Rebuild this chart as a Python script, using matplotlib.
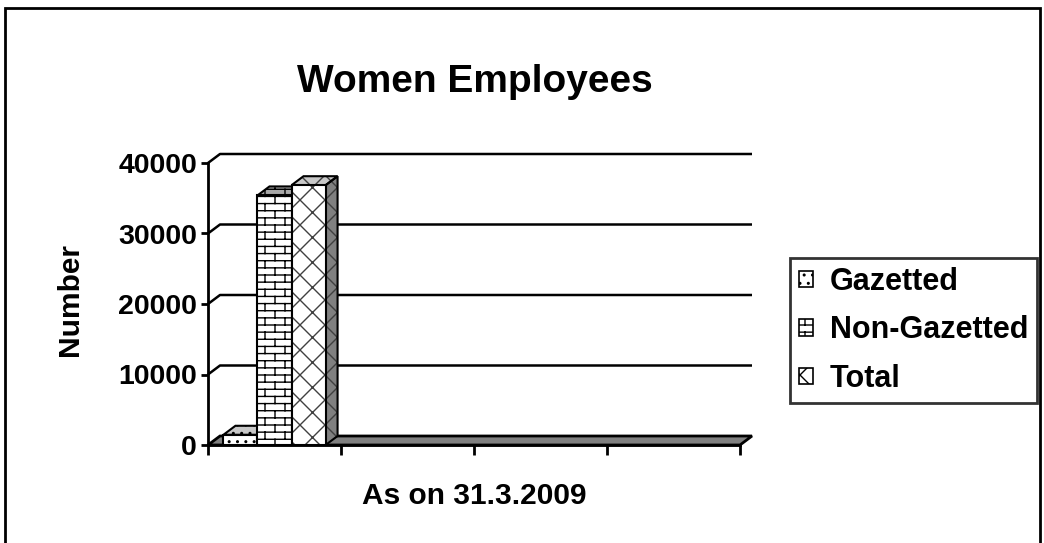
import warnings
import numpy as np
import matplotlib
matplotlib.use("Agg")
import matplotlib.pyplot as plt
from matplotlib import hatch as mhatch
from matplotlib.path import Path
from matplotlib.patches import Polygon, Rectangle

warnings.filterwarnings("ignore")

# data
series = ["Gazetted", "Non-Gazetted", "Total"]
values = [1450, 35400, 36850]
n_slots = 4
y_ticks = [0, 10000, 20000, 30000, 40000]
title = "Women Employees"
x_title = "As on 31.3.2009"
y_title = "Number"

# looks
hatches = ["..", "b", "c"]
hatch_cols = ["black", "black", "#404040"]
top_cols = ["#c8c8c8", "#a8a8a8", "#c8c8c8"]
side_cols = ["#909090", "#909090", "#808080"]
depth_px = (12, 9)


class BrickHatch(mhatch.HatchPatternBase):
    # brick wall: rows of bricks, every other row shifted half a brick
    def __init__(self, hatch, density):
        n = hatch.count("b")
        segs = []
        if n:
            rows, per_row = 14 * n, 5 * n
            h, w = 1.0 / rows, 1.0 / per_row
            for r in range(rows):
                y0 = (r + 0.5) * h
                segs.append(((0, y0), (1, y0)))
                off = (w / 2) * (r % 2)
                for c in range(per_row):
                    x = c * w + off + w / 4
                    y1 = y0 + h
                    if y1 <= 1.0:
                        segs.append(((x, y0), (x, y1)))
                    else:
                        segs.append(((x, y0), (x, 1.0)))
                        segs.append(((x, 0.0), (x, y1 - 1.0)))
        self.segs = segs
        self.num_vertices = len(segs) * 2

    def set_vertices_and_codes(self, vertices, codes):
        vertices[:] = np.array(self.segs).reshape(-1, 2)
        codes[0::2] = Path.MOVETO
        codes[1::2] = Path.LINETO


class CrossHatch(mhatch.HatchPatternBase):
    # diagonal cross, 8 lines per tile each way
    def __init__(self, hatch, density):
        self.n = 8 * hatch.count("c")
        self.num_vertices = (self.n + 1) * 4 if self.n else 0

    def set_vertices_and_codes(self, vertices, codes):
        steps = np.linspace(-0.5, 0.5, self.n + 1)
        m = self.n + 1
        ne = vertices[:2 * m]
        se = vertices[2 * m:]
        ne[0::2, 0] = steps
        ne[0::2, 1] = -steps
        ne[1::2, 0] = 1.0 + steps
        ne[1::2, 1] = 1.0 - steps
        se[0::2, 0] = steps
        se[0::2, 1] = 1.0 + steps
        se[1::2, 0] = 1.0 + steps
        se[1::2, 1] = steps
        codes[0::2] = Path.MOVETO
        codes[1::2] = Path.LINETO


mhatch._hatch_types.append(BrickHatch)
mhatch._hatch_types.append(CrossHatch)

plt.rcParams["font.family"] = "Liberation Sans"
plt.rcParams["font.weight"] = "bold"
plt.rcParams["hatch.linewidth"] = 1.0

W, H = 1044, 543
fig = plt.figure(figsize=(W / 100, H / 100), dpi=100)
ax_l, ax_r, ax_t, ax_b = 208, 740, 163, 445
ax = fig.add_axes([ax_l / W, 1 - ax_b / H, (ax_r - ax_l) / W, (ax_b - ax_t) / H])
ax.set_xlim(0, n_slots)
ax.set_ylim(0, y_ticks[-1])

ddx = depth_px[0] * n_slots / (ax_r - ax_l)
ddy = depth_px[1] * y_ticks[-1] / (ax_b - ax_t)

# floor
ax.add_patch(Polygon([(0, 0), (n_slots, 0), (n_slots + ddx, ddy), (ddx, ddy)],
                     closed=True, facecolor="#808080", edgecolor="black",
                     lw=2, zorder=1, clip_on=False))

# back wall gridlines
for v in y_ticks[1:]:
    ax.plot([0, ddx, n_slots + ddx], [v, v + ddy, v + ddy], color="black",
            lw=1.8, zorder=1, clip_on=False, solid_capstyle="butt")

# bars
bw = 0.256
x0 = 0.5 - bw * len(series) / 2
handles = []
for i, (name, val) in enumerate(zip(series, values)):
    left = x0 + i * bw
    right = left + bw
    z = 3 + i
    side = Polygon([(right, 0), (right + ddx, ddy), (right + ddx, val + ddy), (right, val)],
                   closed=True, facecolor=side_cols[i], edgecolor=hatch_cols[i],
                   hatch=hatches[i], lw=0, zorder=z)
    top = Polygon([(left, val), (right, val), (right + ddx, val + ddy), (left + ddx, val + ddy)],
                  closed=True, facecolor=top_cols[i], edgecolor=hatch_cols[i],
                  hatch=hatches[i], lw=0, zorder=z)
    ax.add_patch(side)
    ax.add_patch(top)
    for p in (side, top):
        ax.add_patch(Polygon(p.get_xy(), closed=True, fill=False, edgecolor="black",
                             lw=1.5, zorder=z))
    ax.bar(left, val, width=bw, align="edge", color="white",
           edgecolor=hatch_cols[i], hatch=hatches[i], lw=0, zorder=z, label=name)
    ax.bar(left, val, width=bw, align="edge", fill=False, edgecolor="black",
           lw=1.5, zorder=z)
    handles.append(Rectangle((0, 0), 1, 1, facecolor="white", edgecolor="black",
                             hatch=hatches[i], lw=1.2))

# axes styling
for s in ("top", "right"):
    ax.spines[s].set_visible(False)
ax.spines["left"].set_linewidth(2)
ax.spines["bottom"].set_linewidth(2)
ax.spines["bottom"].set_zorder(10)
ax.set_yticks(y_ticks)
ax.set_yticklabels([str(t) for t in y_ticks], fontsize=20.5, fontweight="bold")
ax.set_xticks(range(n_slots + 1))
ax.set_xticklabels([])
ax.tick_params(axis="y", length=5, width=2, pad=3)
ax.tick_params(axis="x", length=7, width=2)
ax.patch.set_visible(False)

fig.text(475 / W, 1 - 82 / H, title, ha="center", va="center",
         fontsize=28, fontweight="bold")
fig.text(474 / W, 1 - 496 / H, x_title, ha="center", va="center",
         fontsize=21.5, fontweight="bold")
fig.text(70 / W, 1 - 300 / H, y_title, ha="center", va="center", rotation=90,
         fontsize=21.5, fontweight="bold")

leg = fig.legend(handles, series, loc="upper left", bbox_to_anchor=(790 / W, 1 - 258 / H),
                 fontsize=22, frameon=True, fancybox=False, handlelength=0.45,
                 handleheight=0.45, handletextpad=0.55, labelspacing=0.6,
                 borderpad=0.3, borderaxespad=0)
leg.get_frame().set_edgecolor("black")
leg.get_frame().set_linewidth(2)
for t in leg.get_texts():
    t.set_fontweight("bold")

# chart area border
fig.add_artist(Rectangle((5 / W, -0.1), 1035 / W, 1.1 - 8 / H, transform=fig.transFigure,
                         fill=False, edgecolor="black", lw=2))

fig.savefig("out.png", dpi=100)
